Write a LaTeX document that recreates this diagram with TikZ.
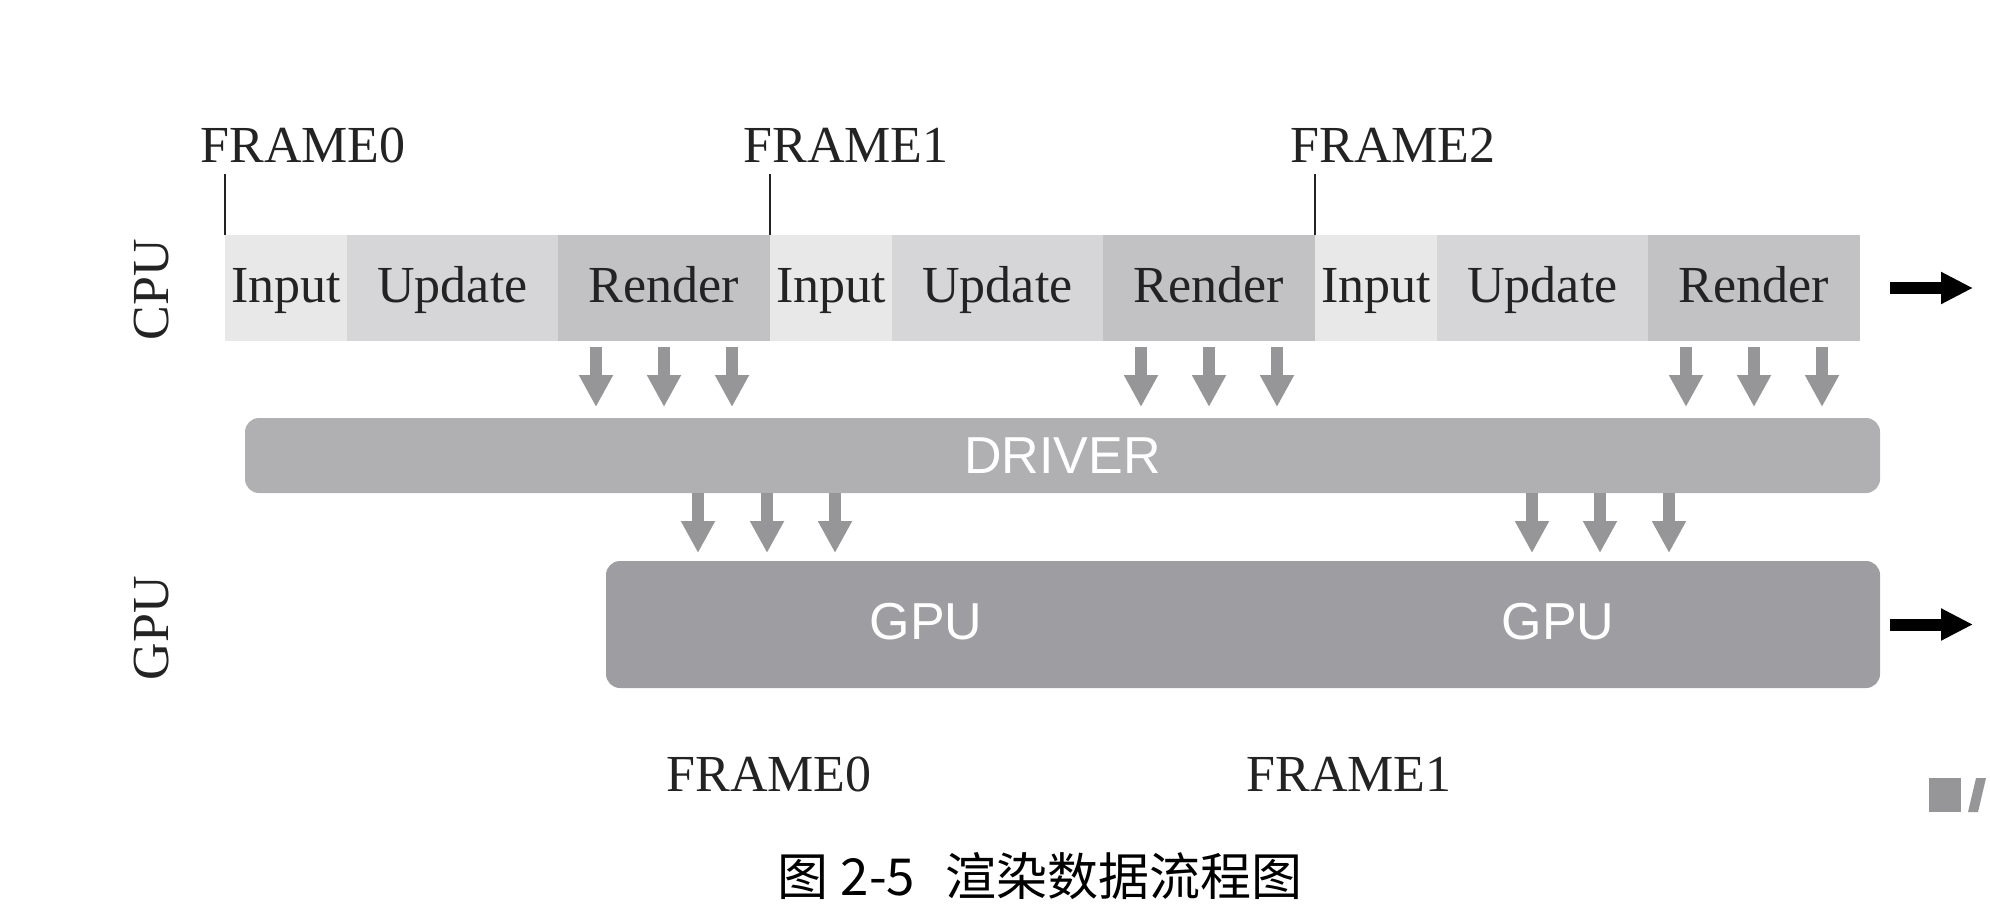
\documentclass[tikz,border=0pt]{standalone}
\usepackage{fontspec}
\setmainfont{Liberation Serif}
\setsansfont{Liberation Sans}
\newfontfamily\cjk{Noto Sans CJK SC}
\usetikzlibrary {positioning,
                 arrows.meta}

\definecolor{inputgray}{RGB}{232,232,232}
\definecolor{updategray}{RGB}{214,214,216}
\definecolor{rendergray}{RGB}{194,194,197}
\definecolor{drivergray}{RGB}{176,176,179}
\definecolor{gpugray}{RGB}{158,158,162}
\definecolor{arrowgray}{RGB}{150,150,152}
\definecolor{textgray}{RGB}{35,35,35}

\begin{document}
\begin{tikzpicture}[x=0.5pt, y=-0.5pt,
    every node/.style={font=\fontsize{26}{30}\selectfont, text=textgray},
    seg/.style={minimum height=53pt, inner sep=0pt, outer sep=0pt,
                text height=17pt, text depth=3pt},
    inputbox/.style={seg, fill=inputgray, minimum width=61pt},
    updatebox/.style={seg, fill=updategray, minimum width=105.5pt},
    renderbox/.style={seg, fill=rendergray, minimum width=106pt},
    bar/.style={rounded corners=7pt, inner sep=0pt, outer sep=0pt,
                font=\sffamily\fontsize{26}{30}\selectfont, text=white},
    tick/.style={textgray, line width=0.9pt},
    down/.style={arrowgray, line width=6pt, -{Triangle[length=16pt, width=16pt]}},
    ahead/.style={black, line width=6pt, -{Triangle[length=16pt, width=15pt]}}]
    \useasboundingbox (0,0) rectangle (1990,920);

    % CPU
    \node[inputbox, anchor=north west] (in0) at (225,235) {Input};
    \node[updatebox, right=0pt of in0] (up0) {Update};
    \node[renderbox, right=0pt of up0] (re0) {Render};
    \node[inputbox, right=0pt of re0] (in1) {Input};
    \node[updatebox, right=0pt of in1] (up1) {Update};
    \node[renderbox, right=0pt of up1] (re1) {Render};
    \node[inputbox, right=0pt of re1] (in2) {Input};
    \node[updatebox, right=0pt of in2] (up2) {Update};
    \node[renderbox, right=0pt of up2] (re2) {Render};
    \node[rotate=90] (cpu) at (152,290) {CPU};
    \draw[ahead] ([xshift=15pt]re2.east) -- ++(83,0);

    % Frames oben
    \node (f0) at (303,145) {FRAME0};
    \node (f1) at (846,145) {FRAME1};
    \node (f2) at (1393,145) {FRAME2};
    \draw[tick] (in0.north west) -- ++(0,-61);
    \draw[tick] (in1.north west) -- ++(0,-61);
    \draw[tick] (in2.north west) -- ++(0,-61);

    % Driver
    \node[bar, fill=drivergray, minimum width=817.5pt, minimum height=37.5pt,
          anchor=north west] (drv) at (245,418) {DRIVER};
    \draw[down, shorten <=3pt, shorten >=5.5pt] ([xshift=-34pt]re0.south) -- ([xshift=-34pt]re0.south |- drv.north);
    \draw[down, shorten <=3pt, shorten >=5.5pt] (re0.south) -- (re0.south |- drv.north);
    \draw[down, shorten <=3pt, shorten >=5.5pt] ([xshift=34pt]re0.south) -- ([xshift=34pt]re0.south |- drv.north);
    \draw[down, shorten <=3pt, shorten >=5.5pt] ([xshift=-34pt]re1.south) -- ([xshift=-34pt]re1.south |- drv.north);
    \draw[down, shorten <=3pt, shorten >=5.5pt] (re1.south) -- (re1.south |- drv.north);
    \draw[down, shorten <=3pt, shorten >=5.5pt] ([xshift=34pt]re1.south) -- ([xshift=34pt]re1.south |- drv.north);
    \draw[down, shorten <=3pt, shorten >=5.5pt] ([xshift=-34pt]re2.south) -- ([xshift=-34pt]re2.south |- drv.north);
    \draw[down, shorten <=3pt, shorten >=5.5pt] (re2.south) -- (re2.south |- drv.north);
    \draw[down, shorten <=3pt, shorten >=5.5pt] ([xshift=34pt]re2.south) -- ([xshift=34pt]re2.south |- drv.north);

    % GPU
    \node[bar, fill=gpugray, minimum width=637pt, minimum height=63.5pt,
          anchor=north west] (gpu) at (606,561) {};
    \node[bar] (gpu0) at (926,622) {GPU};
    \node[bar] (gpu1) at (1558,622) {GPU};
    \node[rotate=90] (gpulabel) at (152,628) {GPU};
    \draw[down, shorten >=4pt] ([xshift=46pt]gpu.north west |- drv.south) -- ([xshift=46pt]gpu.north west);
    \draw[down, shorten >=4pt] ([xshift=80.5pt]gpu.north west |- drv.south) -- ([xshift=80.5pt]gpu.north west);
    \draw[down, shorten >=4pt] ([xshift=114.5pt]gpu.north west |- drv.south) -- ([xshift=114.5pt]gpu.north west);
    \draw[down, shorten >=4pt] ([xshift=463pt]gpu.north west |- drv.south) -- ([xshift=463pt]gpu.north west);
    \draw[down, shorten >=4pt] ([xshift=497pt]gpu.north west |- drv.south) -- ([xshift=497pt]gpu.north west);
    \draw[down, shorten >=4pt] ([xshift=531.5pt]gpu.north west |- drv.south) -- ([xshift=531.5pt]gpu.north west);
    \draw[ahead] ([xshift=5pt]gpu.east) -- ++(83,0);

    % Frames unten
    \node (b0) at (769,774) {FRAME0};
    \node (b1) at (1349,774) {FRAME1};

    % Bildunterschrift
    \node[anchor=west, text=black, font=\cjk\fontsize{25.5}{30}\selectfont] (caption) at (770,876)
        {图\hspace{0.25em}2-5\hspace{0.6em}渲染数据流程图};

    % Rest vom Wasserzeichen
    \fill[arrowgray] (1929,778) rectangle (1961,812);
    \fill[arrowgray] (1976,778) -- (1986,778) -- (1978,812) -- (1968,812) -- cycle;
\end{tikzpicture}
\end{document}
